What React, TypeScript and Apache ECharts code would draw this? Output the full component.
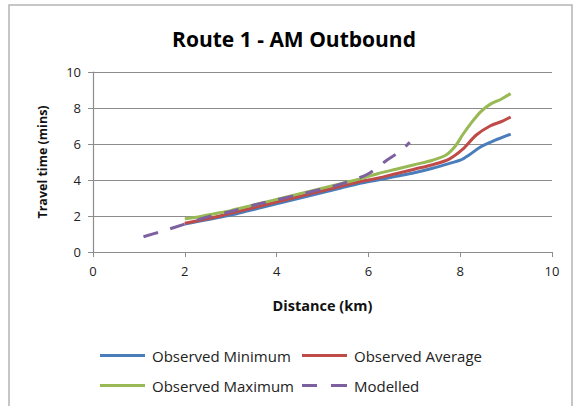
import React, { useEffect, useRef } from "react";
import * as echarts from "echarts";

const minX = [2.0, 2.3, 2.6, 3.0, 3.4, 3.8, 4.2, 4.6, 5.0, 5.4, 5.8, 6.2, 6.6, 7.0, 7.4, 7.8, 8.0, 8.2, 8.45, 8.75, 9.1];
const minY = [1.55, 1.7, 1.85, 2.05, 2.3, 2.55, 2.8, 3.05, 3.3, 3.55, 3.8, 4.0, 4.2, 4.4, 4.65, 4.95, 5.1, 5.4, 5.85, 6.2, 6.55];

const avgX = [2.0, 2.3, 2.6, 3.0, 3.4, 3.8, 4.2, 4.6, 5.0, 5.4, 5.8, 6.2, 6.6, 7.0, 7.4, 7.75, 8.05, 8.35, 8.65, 8.9, 9.1];
const avgY = [1.6, 1.75, 1.9, 2.15, 2.4, 2.65, 2.9, 3.15, 3.4, 3.65, 3.9, 4.1, 4.35, 4.6, 4.85, 5.15, 5.7, 6.5, 7.0, 7.25, 7.5];

const maxX = [2.0, 2.3, 2.6, 3.0, 3.4, 3.8, 4.2, 4.6, 5.0, 5.4, 5.8, 6.2, 6.6, 7.0, 7.4, 7.7, 7.9, 8.05, 8.25, 8.45, 8.65, 8.9, 9.1];
const maxY = [1.85, 1.95, 2.1, 2.3, 2.55, 2.8, 3.05, 3.3, 3.55, 3.8, 4.05, 4.35, 4.6, 4.85, 5.1, 5.4, 5.9, 6.5, 7.2, 7.8, 8.2, 8.5, 8.8];

const modX = [1.1, 1.5, 2.0, 2.5, 3.0, 3.5, 4.0, 4.5, 5.0, 5.5, 6.0, 6.4, 6.7, 6.9];
const modY = [0.85, 1.15, 1.55, 1.95, 2.25, 2.6, 2.9, 3.2, 3.5, 3.85, 4.35, 5.1, 5.6, 6.1];

const seriesNames = ["Observed Minimum", "Observed Average", "Observed Maximum", "Modelled"];
const seriesColors = ["#4a7ebb", "#be4b48", "#98b954", "#7d60a0"];
const axisTicks = [0, 2, 4, 6, 8, 10];

const FONT = "'Open Sans', Lato, sans-serif";

const zip = (xs: number[], ys: number[]) => xs.map((x, i) => [x, ys[i]]);

const SOLID_ICON = "path://M0 0H45V3H0Z";
const DASH_ICON = "path://M0 0H15V3H0Z M29 0H45V3H29Z";

export default function App() {
  const ref = useRef<HTMLDivElement>(null);
  useEffect(() => {
    document.body.style.margin = "0";
    if (!ref.current) return;
    const chart = echarts.init(ref.current, null, { renderer: "svg" });
    const data = [zip(minX, minY), zip(avgX, avgY), zip(maxX, maxY), zip(modX, modY)];
    const legendPos = [
      { left: 95, top: 343 },
      { left: 297, top: 343 },
      { left: 95, top: 373 },
      { left: 297, top: 373 },
    ];
    chart.setOption({
      animation: false,
      backgroundColor: "#ffffff",
      title: {
        text: "Route 1 - AM Outbound",
        left: 289,
        top: 23,
        textAlign: "center",
        textStyle: { fontFamily: FONT, fontSize: 21, fontWeight: "bold", color: "#000" },
      },
      graphic: [
        {
          type: "rect",
          shape: { x: 9, y: 5, width: 563, height: 420 },
          style: { fill: "none", stroke: "#b4b4b4", lineWidth: 1.5 },
          silent: true,
        },
      ],
      legend: seriesNames.map((n, i) => ({
        data: [{ name: n, icon: i === 3 ? DASH_ICON : SOLID_ICON }],
        left: legendPos[i].left,
        top: legendPos[i].top,
        itemWidth: 45,
        itemHeight: 3,
        itemGap: 8,
        textStyle: { fontFamily: FONT, fontSize: 15, color: "#222", padding: [0, 0, 0, 2] },
      })),
      grid: { left: 93, right: 23, top: 72, bottom: 154 },
      xAxis: {
        type: "value",
        min: 0,
        max: 10,
        interval: 2,
        name: "Distance (km)",
        nameLocation: "middle",
        nameGap: 46,
        nameTextStyle: { fontFamily: FONT, fontSize: 14.5, fontWeight: "bold", color: "#111" },
        axisLine: { show: true, lineStyle: { color: "#8c8c8c", width: 1.2 } },
        axisTick: { show: true, length: 5, lineStyle: { color: "#8c8c8c" } },
        axisLabel: {
          fontFamily: FONT,
          fontSize: 13,
          color: "#222",
          margin: 12,
          formatter: (v: number) => (axisTicks.includes(v) ? String(v) : ""),
        },
        splitLine: { show: false },
      },
      yAxis: {
        type: "value",
        min: 0,
        max: 10,
        interval: 2,
        name: "Travel time (mins)",
        nameLocation: "middle",
        nameGap: 44,
        nameTextStyle: { fontFamily: FONT, fontSize: 12.5, fontWeight: "bold", color: "#111" },
        axisLine: { show: true, lineStyle: { color: "#8c8c8c", width: 1.2 } },
        axisTick: { show: true, length: 5, lineStyle: { color: "#8c8c8c" } },
        axisLabel: { fontFamily: FONT, fontSize: 13, color: "#222", margin: 12 },
        splitLine: { show: true, lineStyle: { color: "#8c8c8c", width: 1.2 } },
      },
      series: seriesNames.map((n, i) => ({
        name: n,
        type: "line",
        data: data[i],
        symbol: "none",
        smooth: 0.3,
        color: seriesColors[i],
        lineStyle: {
          color: seriesColors[i],
          width: 3,
          type: i === 3 ? [15, 13] : "solid",
        },
        z: 2 + i,
      })),
    });
    return () => chart.dispose();
  }, []);
  return <div ref={ref} style={{ width: 575, height: 406 }} />;
}
